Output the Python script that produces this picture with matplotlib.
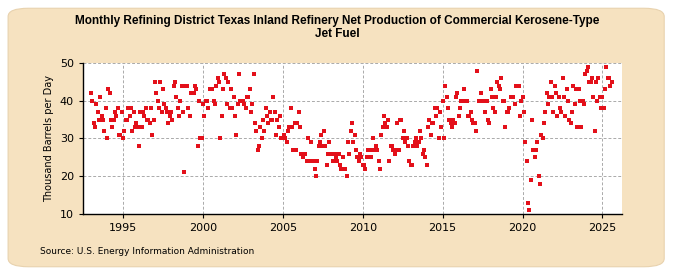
import numpy as np
import matplotlib
matplotlib.use('Agg')
import matplotlib.pyplot as plt
from matplotlib.patches import FancyBboxPatch

# Monthly values (thousand barrels per day), Jan 1993 onward
y1993 = [42, 40, 34, 33, 39, 37, 35, 41, 36, 35, 32, 38]
y1994 = [30, 43, 42, 35, 33, 35, 37, 36, 38, 31, 31, 37]
y1995 = [30, 32, 35, 35, 38, 36, 38, 32, 37, 33, 34, 33]
y1996 = [28, 37, 33, 37, 36, 38, 35, 35, 34, 38, 31, 35]
y1997 = [45, 42, 40, 38, 45, 37, 43, 39, 38, 37, 34, 36]
y1998 = [37, 35, 44, 45, 41, 38, 36, 40, 44, 37, 21, 44]
y1999 = [44, 38, 36, 42, 42, 42, 44, 43, 28, 40, 30, 30]
y2000 = [39, 36, 40, 40, 38, 43, 43, 43, 40, 39, 44, 46]
y2001 = [45, 30, 36, 43, 47, 46, 39, 45, 38, 43, 38, 41]
y2002 = [36, 31, 39, 47, 40, 40, 40, 39, 38, 41, 41, 43]
y2003 = [37, 39, 47, 34, 32, 27, 28, 33, 30, 35, 32, 38]
y2004 = [36, 34, 37, 35, 35, 41, 37, 31, 35, 33, 36, 30]
y2005 = [30, 31, 30, 29, 32, 33, 38, 33, 27, 34, 27, 34]
y2006 = [37, 33, 26, 25, 26, 26, 24, 30, 24, 29, 24, 24]
y2007 = [22, 20, 24, 28, 29, 31, 28, 32, 28, 23, 26, 29]
y2008 = [26, 26, 24, 26, 25, 24, 26, 23, 22, 25, 22, 22]
y2009 = [20, 29, 26, 32, 34, 29, 31, 27, 25, 24, 26, 25]
y2010 = [23, 23, 22, 25, 27, 25, 25, 27, 30, 27, 28, 27]
y2011 = [24, 22, 31, 33, 36, 34, 33, 35, 24, 28, 28, 27]
y2012 = [26, 27, 34, 27, 35, 35, 30, 32, 29, 30, 28, 24]
y2013 = [23, 23, 28, 29, 30, 28, 29, 32, 30, 26, 27, 25]
y2014 = [23, 33, 35, 31, 34, 34, 38, 36, 38, 30, 37, 33]
y2015 = [40, 30, 44, 41, 38, 35, 34, 33, 35, 34, 41, 42]
y2016 = [36, 38, 40, 40, 43, 40, 40, 36, 36, 37, 35, 34]
y2017 = [34, 32, 48, 40, 40, 42, 40, 40, 37, 40, 35, 34]
y2018 = [43, 41, 38, 37, 41, 45, 44, 43, 46, 40, 40, 33]
y2019 = [37, 37, 38, 41, 41, 41, 39, 44, 44, 44, 36, 40]
y2020 = [41, 37, 29, 24, 13, 11, 19, 35, 27, 25, 27, 29]
y2021 = [20, 18, 31, 30, 34, 37, 42, 39, 41, 45, 41, 37]
y2022 = [44, 42, 36, 41, 38, 37, 46, 41, 36, 43, 40, 35]
y2023 = [34, 37, 44, 39, 43, 33, 43, 40, 33, 40, 39, 47]
y2024 = [48, 49, 45, 45, 46, 41, 32, 45, 40, 46, 41, 38]
y2025 = [41, 38, 43, 49, 46, 46, 44, 45]

values = (y1993 + y1994 + y1995 + y1996 + y1997 + y1998 + y1999 + y2000 +
          y2001 + y2002 + y2003 + y2004 + y2005 + y2006 + y2007 + y2008 +
          y2009 + y2010 + y2011 + y2012 + y2013 + y2014 + y2015 + y2016 +
          y2017 + y2018 + y2019 + y2020 + y2021 + y2022 + y2023 + y2024 + y2025)
dates = 1993 + np.arange(len(values)) / 12.0

title = ("Monthly Refining District Texas Inland Refinery Net Production of Commercial Kerosene-Type\n"
         "Jet Fuel")

fig = plt.figure(figsize=(6.75, 2.75), dpi=100)
fig.patch.set_facecolor('white')

# rounded beige background panel
bg = FancyBboxPatch((0.012, 0.03), 0.972, 0.94, boxstyle="round,pad=0,rounding_size=0.03",
                    transform=fig.transFigure, facecolor='#F6E2C0', edgecolor='#E8D2AE',
                    linewidth=0.8, zorder=-10)
fig.patches.append(bg)

ax = fig.add_axes([0.123, 0.222, 0.798, 0.549])
ax.set_facecolor('white')
ax.scatter(dates, values, marker='s', s=12, color='#E3101A', linewidths=0, zorder=3)

ax.set_xlim(1992.5, 2026.2)
ax.set_ylim(10, 50)
ax.set_xticks([1995, 2000, 2005, 2010, 2015, 2020, 2025])
ax.set_yticks([10, 20, 30, 40, 50])
ax.grid(True, color='#AAAAAA', linestyle=(0, (3, 2)), linewidth=0.7)
ax.set_axisbelow(True)
for side in ['top', 'right']:
    ax.spines[side].set_visible(False)
ax.spines['left'].set_linewidth(1.0)
ax.spines['bottom'].set_linewidth(1.0)
ax.tick_params(labelsize=8, length=3, color='black')
ax.set_ylabel("Thousand Barrels per Day", fontsize=7)

fig.text(0.5, 0.945, title, ha='center', va='top', fontsize=8.5, fontweight='bold',
         family=['Liberation Sans', 'DejaVu Sans'], linespacing=1.15)
fig.text(0.06, 0.085, "Source: U.S. Energy Information Administration", fontsize=6.5,
         ha='left', va='center')

fig.savefig('out.png', dpi=100, facecolor=fig.get_facecolor())
